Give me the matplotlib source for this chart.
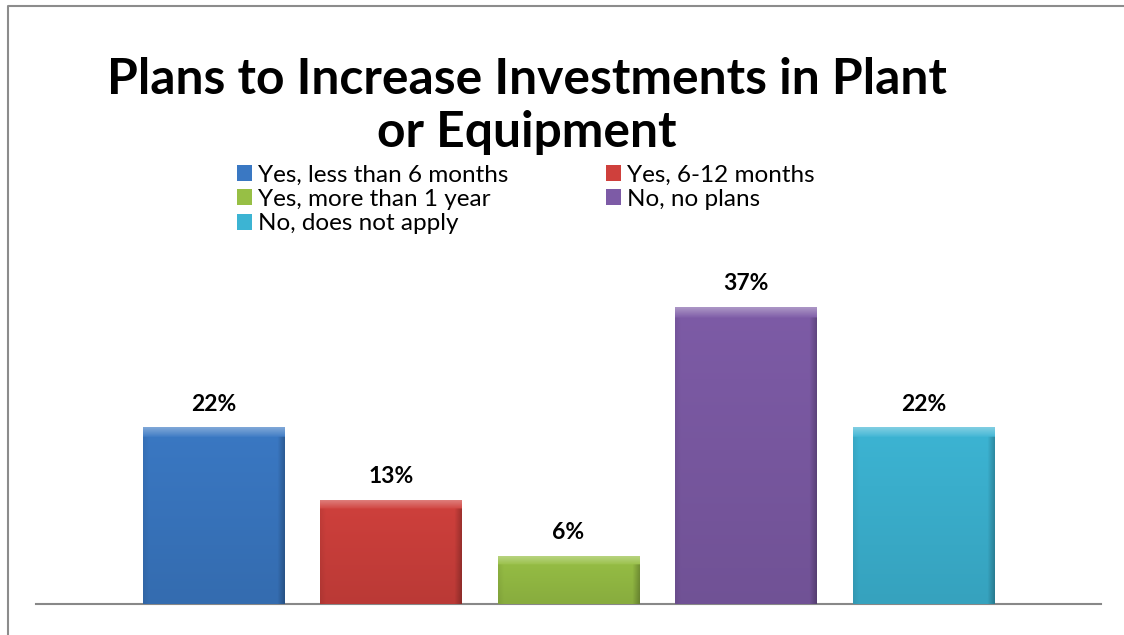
import numpy as np
import matplotlib
matplotlib.use('Agg')
from matplotlib import pyplot as plt
from matplotlib.patches import Patch
from matplotlib.lines import Line2D
from matplotlib.colors import to_rgb

plt.rcParams['font.family'] = ['Lato', 'DejaVu Sans']

# data
labels = ['Yes, less than 6 months', 'Yes, 6-12 months', 'Yes, more than 1 year',
          'No, no plans', 'No, does not apply']
values = [22, 13, 6, 37, 22]
colors = ['#3a78c3', '#cf403c', '#97bf45', '#7d5ba6', '#3cb4d3']
title = 'Plans to Increase Investments in Plant\nor Equipment'

W, H = 1124, 635
fig = plt.figure(figsize=(W / 100, H / 100), dpi=100)

# outer chart border (only left and top are inside the picture)
fig.add_artist(Line2D([7.5 / W, 7.5 / W, 1.0], [0.0, 1 - 5.5 / H, 1 - 5.5 / H],
                      transform=fig.transFigure, color='#8c8c8c', linewidth=1.5))

ax = fig.add_axes([36 / W, (H - 604) / H, (1101 - 36) / W, 321 / H])
x = np.arange(len(values))
bars = ax.bar(x, values, width=0.8, color=colors, zorder=2)

px_per_unit = 321 / 40.0

# bevel-ish gradient on every bar
for b, c in zip(bars, colors):
    x0, w, h = b.get_x(), b.get_width(), b.get_height()
    nx, ny = 140, 200
    hp = h * px_per_unit  # bar height in pixels
    U, V = np.meshgrid(np.linspace(0, 1, nx), np.linspace(0, 1, ny))
    fac = -0.10 * (1 - V)  # a bit darker toward the bottom
    fac = fac - 0.22 * np.clip((U - 0.95) / 0.05, 0, 1)
    fac = fac - 0.06 * np.clip((0.04 - U) / 0.04, 0, 1)
    dtop = (1 - V) * hp  # pixels from top
    bevel = np.clip(1 - dtop / 9.0, 0, 1)
    fac = np.where(dtop < 9, 0.05 + 0.30 * bevel, fac)
    base = np.array(to_rgb(c))
    f = fac[..., None]
    img = np.where(f > 0, base + (1 - base) * f, base * (1 + f))
    im = ax.imshow(img, extent=(x0, x0 + w, 0, h), origin='lower', aspect='auto',
                   zorder=3, interpolation='bilinear')
    im.set_clip_path(b)
    ax.text(b.get_x() + w / 2, h + 1.6, f'{int(h)}%', ha='center', va='bottom',
            fontsize=16.5, fontweight='bold', zorder=4)

ax.set_xlim(-1, 5)
ax.set_ylim(0, 40)
for s in ['top', 'right', 'left']:
    ax.spines[s].set_visible(False)
ax.spines['bottom'].set_color('#888888')
ax.spines['bottom'].set_linewidth(1.5)
ax.set_xticks([])
ax.set_yticks([])
ax.patch.set_alpha(0)

fig.text(527 / W, 1 - 106 / H, title, ha='center', va='center', fontsize=35.8,
         fontweight='bold', linespacing=1.2)

order = [0, 2, 4, 1, 3]
handles = [Patch(facecolor=colors[i], edgecolor='none') for i in order]
fig.legend(handles, [labels[i] for i in order], ncol=2, loc='upper left',
           bbox_to_anchor=(237 / W, 1 - 164.5 / H), frameon=False, fontsize=17.5,
           handlelength=0.62, handleheight=0.62, handletextpad=0.25,
           columnspacing=4.0, labelspacing=0.14, borderpad=0, borderaxespad=0)

fig.savefig('out.png', dpi=100)
